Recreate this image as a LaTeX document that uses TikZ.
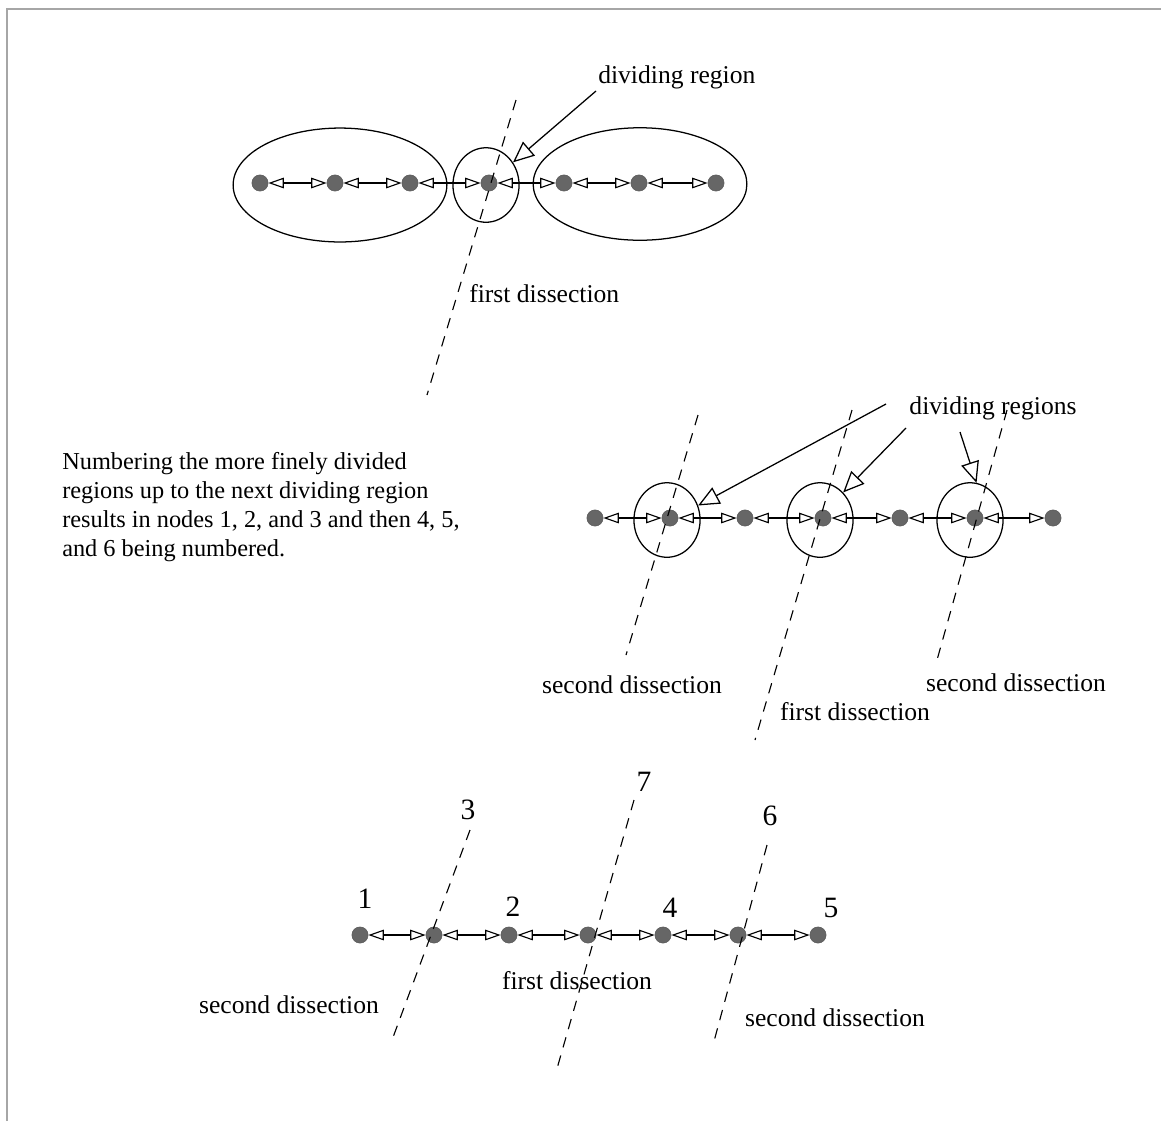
\documentclass[tikz,border=0pt]{standalone}
\usepackage{fontspec}
\setmainfont{Liberation Serif}
\usetikzlibrary{arrows.meta, positioning, shapes.geometric}

\tikzset{
  vtx/.style={circle, fill=black!60, draw=black!65, inner sep=0pt, minimum size=11.5pt},
  link/.style={{Triangle[open, length=11pt, width=7.5pt]}-{Triangle[open, length=11pt, width=7.5pt]}, line width=0.8pt},
  cut/.style={dash pattern=on 7.5pt off 6pt, line width=0.8pt},
  region/.style={draw, ellipse, line width=0.9pt, inner sep=0pt},
  pointer/.style={-{Triangle[open, length=15pt, width=13pt]}, line width=0.9pt},
  lbl/.style={font=\fontsize{18.2}{20.6}\selectfont, inner sep=0pt},
  num/.style={font=\fontsize{21}{24}\selectfont, inner sep=0pt}
}

\begin{document}
\begin{tikzpicture}[x=0.025cm, y=-0.025cm]
  \useasboundingbox (0,0) rectangle (1161,1121);
  \draw[gray!70, line width=1pt] (7,1121) -- (7,9) -- (1161,9);

  % first dissection
  \node[region, minimum width=152pt, minimum height=81pt] (lhalf) at (340,185) {};
  \node[region, minimum width=152pt, minimum height=80pt] (rhalf) at (640,184) {};
  \node[region, minimum width=47pt, minimum height=53pt] (mid) at (486,185) {};
  \foreach \x [count=\i] in {260,335,410,489,564,639,716}
    \node[vtx] (a\i) at (\x,183) {};
  \foreach \i/\j in {1/2,2/3,3/4,4/5,5/6,6/7}
    \draw[link] (a\i) -- (a\j);
  \coordinate (cuttop) at (516,100);
  \coordinate (cutbot) at (427,395);
  \draw[cut] (cuttop) -- (cutbot);
  \node[lbl, anchor=west] (divone) at (598,77) {dividing region};
  \coordinate (divstart) at (596,91);
  \draw[pointer] (divstart) -- (mid.40);
  \node[lbl, anchor=west] (firstone) at (469,294) {first dissection};

  % second dissection
  \node[lbl, font=\fontsize{17.3}{20.6}\selectfont, anchor=north west, align=left] (note) at (62,452)
    {Numbering the more finely divided\\regions up to the next dividing region\\results in nodes 1, 2, and 3 and then 4, 5,\\and 6 being numbered.};
  \node[region, minimum width=47pt, minimum height=53pt] (r1) at (667,520) {};
  \node[region, minimum width=47pt, minimum height=53pt] (r2) at (820,520) {};
  \node[region, minimum width=47pt, minimum height=53pt] (r3) at (970,520) {};
  \foreach \x [count=\i] in {595,670,745,823,900,975,1053}
    \node[vtx] (b\i) at (\x,518) {};
  \foreach \i/\j in {1/2,2/3,3/4,4/5,5/6,6/7}
    \draw[link] (b\i) -- (b\j);
  \coordinate (s1top) at (698,415);
  \coordinate (s1bot) at (626,655);
  \coordinate (f2top) at (852,410);
  \coordinate (f2bot) at (755,740);
  \coordinate (s3top) at (1007,410);
  \coordinate (s3bot) at (937,660);
  \draw[cut] (s1top) -- (s1bot);
  \draw[cut] (f2top) -- (f2bot);
  \draw[cut] (s3top) -- (s3bot);
  \node[lbl] (divmany) at (993,408) {dividing regions};
  \coordinate (p1) at (886,404);
  \coordinate (p2) at (906,428);
  \coordinate (p3) at (960,432);
  \draw[pointer] (p1) -- (r1.25);
  \draw[pointer] (p2) -- (r2.50);
  \draw[pointer] (p3) -- (r3.80);
  \node[lbl] (secleft) at (632,685) {second dissection};
  \node[lbl] (firstmid) at (855,712) {first dissection};
  \node[lbl] (secright) at (1016,683) {second dissection};

  % numbering
  \foreach \x [count=\i] in {360,434,509,588,663,738,818}
    \node[vtx] (c\i) at (\x,935) {};
  \foreach \i/\j in {1/2,2/3,3/4,4/5,5/6,6/7}
    \draw[link] (c\i) -- (c\j);
  \coordinate (t1top) at (470,830);
  \coordinate (t1bot) at (392,1040);
  \coordinate (t2top) at (634,800);
  \coordinate (t2bot) at (556,1072);
  \coordinate (t3top) at (767,845);
  \coordinate (t3bot) at (713,1045);
  \draw[cut] (t1top) -- (t1bot);
  \draw[cut] (t2top) -- (t2bot);
  \draw[cut] (t3top) -- (t3bot);
  \node[num] (n1) at (365,899) {1};
  \node[num] (n3) at (468,810) {3};
  \node[num] (n2) at (513,907) {2};
  \node[num] (n7) at (644,782) {7};
  \node[num] (n4) at (670,908) {4};
  \node[num] (n6) at (770,816) {6};
  \node[num] (n5) at (831,908) {5};
  \node[lbl] (secone) at (289,1005) {second dissection};
  \node[lbl] (firsttwo) at (577,981) {first dissection};
  \node[lbl] (sectwo) at (835,1018) {second dissection};
\end{tikzpicture}
\end{document}
